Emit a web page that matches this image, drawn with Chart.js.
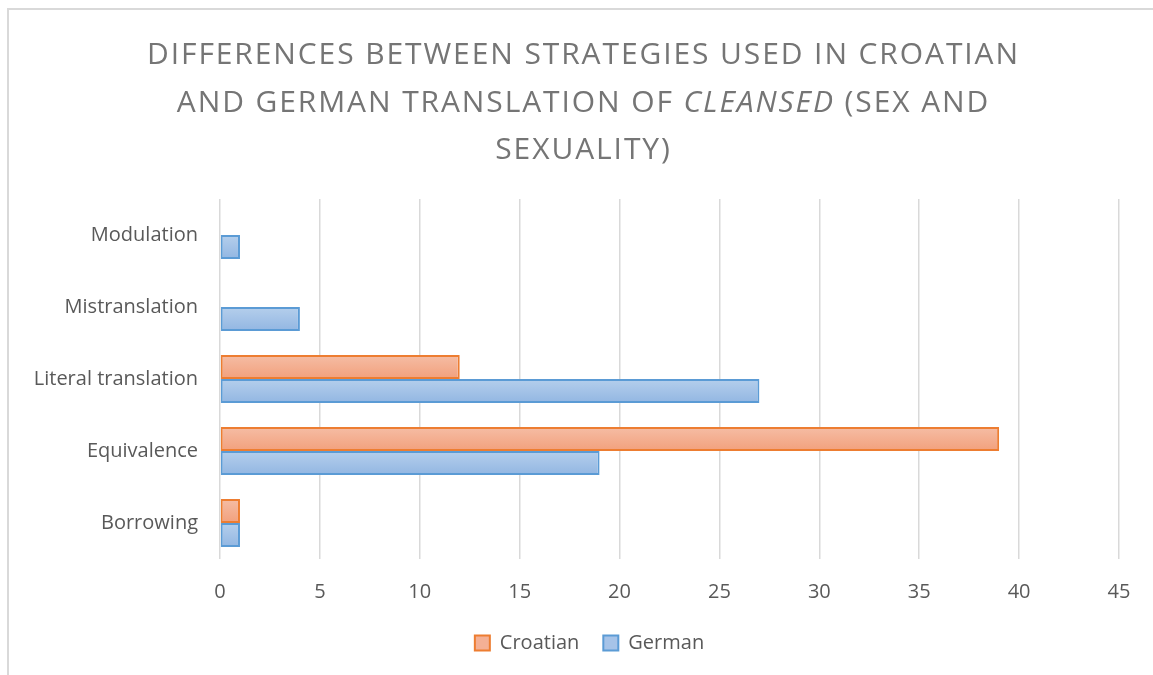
<!DOCTYPE html>
<html>
<head>
<meta charset="utf-8">
<script src="https://cdn.jsdelivr.net/npm/chart.js@4.4.1/dist/chart.umd.min.js"></script>
<style>
  html, body { margin: 0; padding: 0; background: #fff; overflow: hidden; }
  #frame {
    position: absolute; left: 7px; top: 8px; width: 1200px; height: 720px;
    border: 2px solid #d9d9d9; box-sizing: border-box;
  }
  #title {
    position: absolute; left: 7px; top: 29px; width: 1153px;
    text-align: center; font-family: "Open Sans", sans-serif; font-weight: 400;
    font-size: 30px; letter-spacing: 1.9px; line-height: 47.5px; color: #757575;
  }
  #wrap { position: absolute; left: 0; top: 0; width: 1153px; height: 675px; }
</style>
</head>
<body>
<div id="frame"></div>
<div id="wrap"><canvas id="chart"></canvas></div>
<div id="title">DIFFERENCES BETWEEN STRATEGIES USED IN CROATIAN<br>AND GERMAN TRANSLATION OF <i>CLEANSED</i> (SEX AND<br>SEXUALITY)</div>
<script>
// strategies, top to bottom
const categories = ["Modulation", "Mistranslation", "Literal translation", "Equivalence", "Borrowing"];
const croatian = [0, 0, 12, 39, 1];
const german = [1, 4, 27, 19, 1];
const xTicks = [0, 5, 10, 15, 20, 25, 30, 35, 40, 45];

const FONT = "'Open Sans', sans-serif";
const TEXT = "#595959";

// Excel-style vertical gradient inside every bar
function barGradient(top, bottom) {
  return (ctx) => {
    const chart = ctx.chart;
    const y = chart.scales.y;
    if (!chart.chartArea || !y || ctx.dataIndex === undefined) return top;
    const band = (y.getPixelForValue(1) - y.getPixelForValue(0)) * 0.67 / 2;
    const center = y.getPixelForValue(ctx.dataIndex);
    const y0 = center - band + ctx.datasetIndex * band;
    const g = chart.ctx.createLinearGradient(0, y0, 0, y0 + band);
    g.addColorStop(0, top);
    g.addColorStop(1, bottom);
    return g;
  };
}

// legend sits a bit right of the canvas centre, like the original
const legendShift = {
  id: "legendShift",
  afterLayout(chart) {
    chart.legend.left += 30;
    chart.legend.right += 30;
  },
};

new Chart(document.getElementById("chart"), {
  type: "bar",
  data: {
    labels: categories,
    datasets: [
      {
        label: "Croatian",
        data: croatian,
        backgroundColor: barGradient("#f5bda5", "#f2a07c"),
        borderColor: "#ed7d31",
        borderWidth: 2,
        borderSkipped: false,
      },
      {
        label: "German",
        data: german,
        backgroundColor: barGradient("#b5cfec", "#92b6e2"),
        borderColor: "#5b9bd5",
        borderWidth: 2,
        borderSkipped: false,
      },
    ],
  },
  plugins: [legendShift],
  options: {
    indexAxis: "y",
    responsive: true,
    maintainAspectRatio: false,
    animation: false,
    datasets: { bar: { categoryPercentage: 0.67, barPercentage: 1 } },
    layout: { padding: { top: 199, right: 34, left: 0, bottom: 12 } },
    scales: {
      x: {
        min: 0,
        max: 45,
        afterBuildTicks: (s) => { s.ticks = xTicks.map((v) => ({ value: v })); },
        afterFit: (s) => { s.height = 50; },
        ticks: { color: TEXT, font: { family: FONT, size: 20 }, padding: 21 },
        grid: { color: "#d9d9d9", lineWidth: 1.5, drawTicks: false },
        border: { display: false },
      },
      y: {
        afterFit: (s) => { s.width = 220; },
        ticks: { color: TEXT, font: { family: FONT, size: 20 }, padding: 22 },
        grid: { display: false, drawTicks: false },
        border: { display: false },
      },
    },
    plugins: {
      legend: {
        position: "bottom",
        labels: {
          color: TEXT,
          font: { family: FONT, size: 20 },
          boxWidth: 15,
          boxHeight: 15,
          padding: 24,
          useBorderRadius: false,
          generateLabels: (chart) => chart.data.datasets.map((d, i) => ({
            text: d.label,
            fillStyle: i === 0 ? "#f4b095" : "#a6c3e8",
            strokeStyle: d.borderColor,
            lineWidth: 2,
            fontColor: TEXT,
            datasetIndex: i,
          })),
        },
      },
      tooltip: { enabled: false },
    },
  },
});
</script>
</body>
</html>
